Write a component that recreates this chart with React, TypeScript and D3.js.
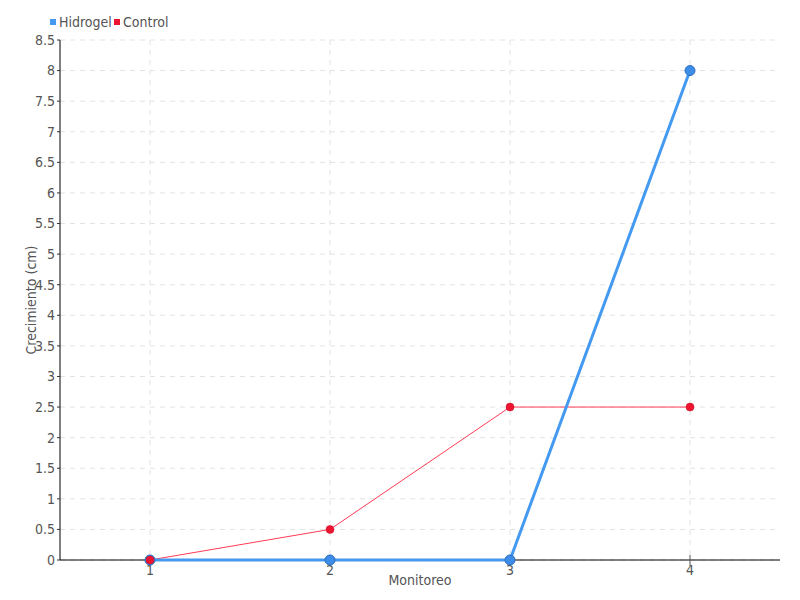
import React from "react";
import * as d3 from "d3";

const categories = ["1", "2", "3", "4"];
const hidrogel = [0, 0, 0, 8];
const control = [0, 0.5, 2.5, 2.5];
const yTicks = [0, 0.5, 1, 1.5, 2, 2.5, 3, 3.5, 4, 4.5, 5, 5.5, 6, 6.5, 7, 7.5, 8, 8.5];
const seriesNames = ["Hidrogel", "Control"];

const W = 800, H = 600;
const M = { left: 60, right: 20, top: 40, bottom: 40 };
const FONT = "'Liberation Sans Narrow', 'DejaVu Sans Condensed', 'Roboto', sans-serif";

export default function App() {
  const x = d3.scaleBand().domain(categories).range([M.left, W - M.right]);
  const y = d3.scaleLinear().domain([0, 8.5]).range([H - M.bottom, M.top]);
  const cx = (c: string) => (x(c) as number) + x.bandwidth() / 2;
  const line = d3.line<number>().x((_, i) => cx(categories[i])).y((v) => y(v));
  const fmt = (v: number) => String(v);

  return (
    <svg width={W} height={H} style={{ position: "absolute", left: 0, top: 0, fontFamily: FONT }}>
      <rect width={W} height={H} fill="#fff" />
      {yTicks.map((t) => (
        <line key={"gy" + t} x1={M.left} x2={W - M.right} y1={y(t)} y2={y(t)} stroke="#e2e2e2" strokeDasharray="5,5" />
      ))}
      {categories.map((c) => (
        <line key={"gx" + c} x1={cx(c)} x2={cx(c)} y1={M.top} y2={H - M.bottom} stroke="#e2e2e2" strokeDasharray="5,5" />
      ))}
      {/* axes */}
      <line x1={M.left} x2={M.left} y1={M.top} y2={H - M.bottom} stroke="#000" strokeWidth={1} />
      <line x1={M.left} x2={W - M.right} y1={H - M.bottom} y2={H - M.bottom} stroke="#000" strokeWidth={1} />
      {yTicks.map((t) => (
        <g key={"ty" + t}>
          <line x1={M.left - 3} x2={M.left} y1={y(t)} y2={y(t)} stroke="#333" />
          <text x={M.left - 5} y={y(t)} dy="0.35em" textAnchor="end" fontSize={14} fill="#555">{fmt(t)}</text>
        </g>
      ))}
      {categories.map((c) => (
        <g key={"tx" + c}>
          <line x1={cx(c)} x2={cx(c)} y1={H - M.bottom - 5} y2={H - M.bottom + 6} stroke="#555" />
          <text x={cx(c)} y={H - M.bottom + 15} textAnchor="middle" fontSize={14} fill="#555">{c}</text>
        </g>
      ))}
      <text x={420} y={585} textAnchor="middle" fontSize={14} fill="#555">Monitoreo</text>
      <text transform={`translate(36,${300}) rotate(-90)`} textAnchor="middle" fontSize={14} fill="#555">Crecimiento (cm)</text>
      {/* lines */}
      <path d={line(control) || ""} fill="none" stroke="#ff3b55" strokeWidth={1} />
      <path d={line(hidrogel) || ""} fill="none" stroke="#4499f0" strokeWidth={3} />
      {hidrogel.map((v, i) => (
        <circle key={"hp" + i} cx={cx(categories[i])} cy={y(v)} r={5} fill="#3d8ce8" stroke="#2b6cc0" strokeWidth={1} />
      ))}
      {control.map((v, i) => (
        <circle key={"cp" + i} cx={cx(categories[i])} cy={y(v)} r={4} fill="#ee1530" stroke="#c8102a" strokeWidth={0.5} />
      ))}
      {/* legend */}
      <rect x={50} y={19} width={6} height={6} fill="#4499f0" />
      <text x={59} y={27} fontSize={14} fill="#555">{seriesNames[0]}</text>
      <rect x={114} y={19} width={6} height={6} fill="#ee1530" />
      <text x={123} y={27} fontSize={14} fill="#555">{seriesNames[1]}</text>
    </svg>
  );
}
